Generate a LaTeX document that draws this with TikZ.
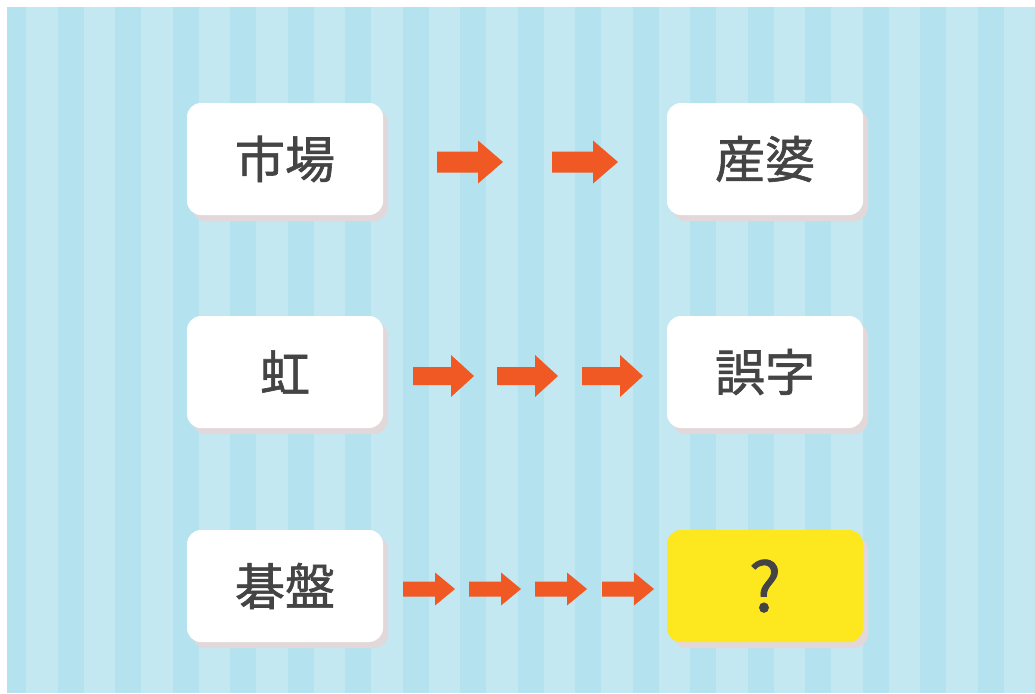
\documentclass[tikz,border=0pt]{standalone}
\usepackage{fontspec}
\setmainfont{Noto Sans CJK JP}
\newfontfamily\wordfont[FakeBold=1.2]{Noto Sans CJK JP}
\usetikzlibrary{shadows}

\definecolor{stripelight}{RGB}{196,232,241}
\definecolor{stripedark}{RGB}{180,226,238}
\definecolor{arroworange}{RGB}{240,88,36}
\definecolor{boxshadow}{RGB}{226,216,218}
\definecolor{quizyellow}{RGB}{253,231,30}
\definecolor{inkgray}{RGB}{68,68,68}

\tikzset{
    wordbox/.style={rounded corners=14pt, fill=white, minimum width=196pt, minimum height=112pt,
        inner sep=0pt, text=inkgray, font=\wordfont\fontsize{50}{50}\selectfont,
        drop shadow={shadow xshift=5pt, shadow yshift=-6pt, fill=boxshadow, opacity=1}},
    answerbox/.style={wordbox, fill=quizyellow, font=\wordfont\fontsize{68}{68}\selectfont},
    arrowfill/.style={fill=arroworange},
}

\begin{document}
\begin{tikzpicture}[x=1pt, y=-1pt]
        \useasboundingbox (0,0) rectangle (1035,693);

        % background stripes
        \fill[white] (0,0) rectangle (1035,693);
        \begin{scope}
            \clip (7,7) rectangle (1035,693);
            \fill[stripelight] (7,7) rectangle (1035,693);
            \foreach \k in {0,...,17}
                \fill[stripedark] ({57.5*\k},7) rectangle ({57.5*\k+26},693);
        \end{scope}

        % words
        \node[wordbox] (ichiba) at (285,159) {市場};
        \node[wordbox] (sanba) at (765,159) {産婆};
        \node[wordbox] (niji) at (285,372) {虹};
        \node[wordbox] (goji) at (765,372) {誤字};
        \node[wordbox] (goban) at (285,586) {碁盤};
        \node[answerbox] (answer) at (765,586) {?};

        % arrows
        \foreach \sx/\cy/\len/\bh/\hh/\hl in {437/162/66/10.5/21.5/25, 552/162/66/10.5/21.5/25,
                413/376/61/9/21/23, 497/376/61/9/21/23, 582/376/61/9/21/23,
                403/589/52/7.5/16.5/20, 469/589/52/7.5/16.5/20, 535/589/52/7.5/16.5/20, 602/589/52/7.5/16.5/20}
            \fill[arrowfill] (\sx,\cy) ++(0,-\bh) -- ++({\len-\hl},0) -- ++(0,{\bh-\hh})
                -- ++(\hl,\hh) -- ++(-\hl,\hh) -- ++(0,{\bh-\hh}) -- ++({\hl-\len},0) -- cycle;
    \end{tikzpicture}
\end{document}
